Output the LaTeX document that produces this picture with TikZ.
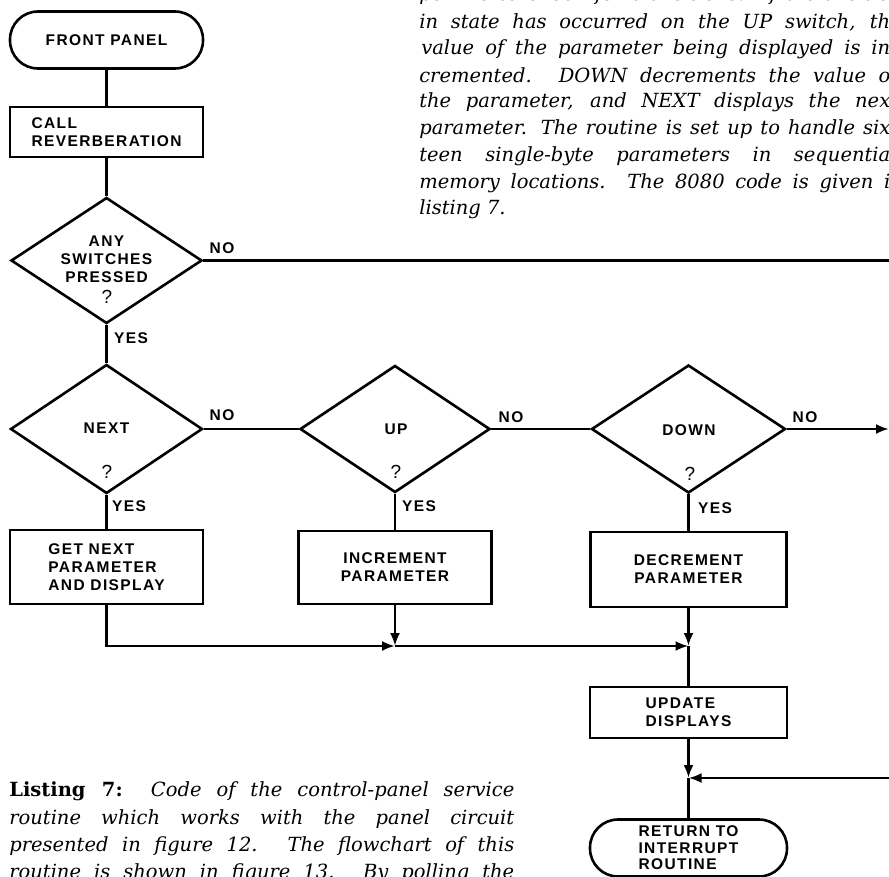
\documentclass[tikz,border=0pt]{standalone}
\usepackage{fontspec}
\setmainfont{DejaVu Serif}
\newfontfamily\chartfont[LetterSpace=9]{Liberation Sans}
\usetikzlibrary{shapes.geometric,arrows.meta}
\begin{document}
\begin{tikzpicture}[x=1pt,y=-1pt, line width=2.6pt,
  chart/.style={font=\chartfont\bfseries\fontsize{15.5}{18}\selectfont},
  box/.style={chart, draw, rectangle, minimum width=193pt, inner sep=0pt},
  term/.style={box, rounded corners=28pt},
  dia/.style={draw, diamond, inner sep=0pt},
  lbl/.style={chart, inner sep=0pt},
  qm/.style={font=\chartfont\fontsize{19}{19}\selectfont, inner sep=0pt},
  txt/.style={font=\itshape\fontsize{19.5}{24}\selectfont, inner sep=0pt},
  arr/.style={-{Latex[length=13pt,width=10pt]}}
]
\useasboundingbox (0,0) rectangle (889,877);
\clip (0,0) rectangle (889,877);

% left column
\node[term, minimum height=57pt] (front) at (106.5,40) {FRONT PANEL};
\node[box, minimum height=50pt, align=left] (call) at (106.5,132) {CALL\\REVERBERATION};
\node[dia, minimum width=191pt, minimum height=126pt] (any) at (106.5,260.5) {};
\node[lbl, align=center] (anyt) at (106.5,259) {ANY\\SWITCHES\\PRESSED};
\node[qm] (anyq) at (107,297) {?};

\node[dia, minimum width=192pt, minimum height=129pt] (next) at (106.5,429) {};
\node[lbl] (nextt) at (106.5,428) {NEXT};
\node[qm] (nextq) at (107,472) {?};

\node[dia, minimum width=190pt, minimum height=127pt] (up) at (395,429) {};
\node[lbl] (upt) at (396,429) {UP};
\node[qm] (upq) at (396,472) {?};

\node[dia, minimum width=194pt, minimum height=128pt] (down) at (688.5,429) {};
\node[lbl] (downt) at (689,430) {DOWN};
\node[qm] (downq) at (690,474) {?};

\node[box, minimum height=74pt, align=left] (getnext) at (106.5,567) {GET NEXT\\PARAMETER\\AND DISPLAY};
\node[box, minimum height=73pt, align=center] (inc) at (395,567.5) {INCREMENT\\PARAMETER};
\node[box, minimum width=196pt, minimum height=75pt, align=center] (dec) at (688.5,569.5) {DECREMENT\\PARAMETER};
\node[box, minimum width=197pt, minimum height=51pt, align=left] (update) at (688.5,712.5) {UPDATE\\DISPLAYS};
\node[term, minimum width=197pt, minimum height=57pt, align=left, font=\chartfont\bfseries\fontsize{15.5}{16.5}\selectfont] (ret) at (688.5,848) {RETURN TO\\INTERRUPT\\ROUTINE};

% branch labels
\node[lbl] (no1) at (222,248) {NO};
\node[lbl] (no2) at (222,415) {NO};
\node[lbl] (no3) at (511,417) {NO};
\node[lbl] (no4) at (805,417) {NO};
\node[lbl] (yes1) at (131,338) {YES};
\node[lbl] (yes2) at (129,506) {YES};
\node[lbl] (yes3) at (419,506) {YES};
\node[lbl] (yes4) at (715,508) {YES};

% junctions and edge points
\coordinate (j1) at (395,646);
\coordinate (j2) at (688.5,646);
\coordinate (j3) at (688.5,778);
\coordinate (e1) at (889,260.5);
\coordinate (e2) at (889,429);
\coordinate (e3) at (889,778);

% connectors
\draw (front) -- (call);
\draw (call) -- (any);
\draw (any.south) -- (next.north);
\draw (any.east) -- (e1);
\draw (next.east) -- (up.west);
\draw (up.east) -- (down.west);
\draw[arr] (down.east) -- (e2);
\draw (next.south) -- (getnext.north);
\draw (up.south) -- (inc.north);
\draw (down.south) -- (dec.north);
\draw[arr] (getnext.south) |- (j1);
\draw[arr] (inc.south) -- (j1);
\draw[arr] (j1) -- (j2);
\draw[arr] (dec.south) -- (j2);
\draw (j2) -- (update.north);
\draw[arr] (update.south) -- (j3);
\draw[arr] (e3) -- (j3);
\draw (j3) -- (ret.north);

% text block, top right
\node[txt, anchor=west] (t0) at (418,-4.8) {\makebox[471pt][s]{per ms to check for transitions. If a transitio}};
\node[txt, anchor=west] (t1) at (418,22) {\makebox[471pt][s]{in state has occurred on the UP switch, th}};
\node[txt, anchor=west] (t2) at (420,48.8) {\makebox[469pt][s]{value of the parameter being displayed is in}};
\node[txt, anchor=west] (t3) at (418,75.6) {\makebox[471pt][s]{cremented. DOWN decrements the value o}};
\node[txt, anchor=west] (t4) at (418,102.4) {\makebox[471pt][s]{the parameter, and NEXT displays the nex}};
\node[txt, anchor=west] (t5) at (418,129.2) {\makebox[471pt][s]{parameter. The routine is set up to handle six}};
\node[txt, anchor=west] (t6) at (418,156) {\makebox[471pt][s]{teen single-byte parameters in sequentia}};
\node[txt, anchor=west] (t7) at (418,182.8) {\makebox[471pt][s]{memory locations. The 8080 code is given i}};
\node[txt, anchor=west] (t8) at (418,209.6) {listing 7.};

% caption, bottom left
\node[txt, anchor=west] (c1) at (8,791.5) {\makebox[505pt][s]{\upshape\bfseries Listing 7: \itshape\mdseries Code of the control-panel service}};
\node[txt, anchor=west] (c2) at (8,818.8) {\makebox[505pt][s]{routine which works with the panel circuit}};
\node[txt, anchor=west] (c3) at (8,846.1) {\makebox[505pt][s]{presented in figure 12. The flowchart of this}};
\node[txt, anchor=west] (c4) at (8,873.4) {\makebox[505pt][s]{routine is shown in figure 13. By polling the}};
\end{tikzpicture}
\end{document}
